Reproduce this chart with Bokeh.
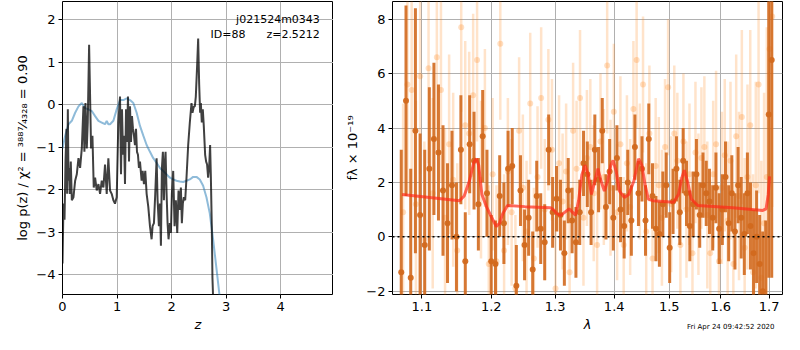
from bokeh.plotting import figure
from bokeh.layouts import row
from bokeh.models import ColumnDataSource, FixedTicker, CustomJSTickFormatter, Span, Label, Title
from bokeh.embed import file_html
from bokeh.resources import INLINE
import numpy as np

FONT = "DejaVu Sans"

# ---------------- left panel: log p(z) ----------------
pz_z = [0.000, 0.018, 0.037, 0.055, 0.073, 0.085, 0.098, 0.110, 0.122, 0.134, 0.152, 0.171,
        0.201, 0.232, 0.262, 0.293, 0.323, 0.354, 0.384, 0.402, 0.421, 0.445, 0.463, 0.488,
        0.506, 0.524, 0.549, 0.573, 0.598, 0.628, 0.659, 0.689, 0.720, 0.750, 0.780, 0.811,
        0.841, 0.872, 0.902, 0.933, 0.963, 0.994, 1.024, 1.055, 1.073, 1.091, 1.110, 1.128,
        1.146, 1.165, 1.183, 1.201, 1.220, 1.238, 1.256, 1.274, 1.293, 1.311, 1.329, 1.348,
        1.366, 1.384, 1.402, 1.421, 1.451, 1.470, 1.494, 1.518, 1.543, 1.573, 1.604, 1.634,
        1.652, 1.677, 1.701, 1.726, 1.744, 1.768, 1.787, 1.805, 1.823, 1.841, 1.860, 1.878,
        1.890, 1.909, 1.927, 1.945, 1.970, 1.988, 2.006, 2.030, 2.055, 2.079, 2.104, 2.128,
        2.152, 2.171, 2.189, 2.207, 2.226, 2.250, 2.274, 2.305, 2.335, 2.366, 2.384, 2.409,
        2.427, 2.445, 2.470, 2.488, 2.506, 2.524, 2.537, 2.555, 2.573, 2.591, 2.616, 2.634,
        2.652, 2.671, 2.689, 2.707, 2.720, 2.738, 2.750, 2.762, 2.780]
pz_logp = [-3.74, -2.33, -2.71, -1.34, -0.57, -2.10, -0.11, -1.79, -1.49, -2.10, -1.34, -2.25,
           -2.18, -1.79, -1.64, -1.26, -1.49, -1.03, -0.04, -1.11, 0.04, -1.03, -0.42, 1.41,
           0.19, -1.03, -0.73, -1.95, -1.72, -2.02, -1.87, -2.10, -1.79, -1.95, -1.41, -2.10,
           -1.26, -2.02, -2.10, -2.25, -2.33, -2.18, -0.42, 0.19, -1.64, -0.11, -1.18, -0.73,
           -1.87, -0.11, -0.88, 0.19, -1.34, -0.04, -0.88, -0.27, -0.57, -0.73, -0.95, -0.57,
           -1.11, -1.18, -1.49, -1.34, -1.79, -1.56, -1.87, -1.56, -2.10, -2.40, -2.86, -3.17,
           -2.86, -2.79, -2.10, -1.26, -2.25, -2.86, -2.33, -3.32, -1.49, -1.11, -2.25, -1.34,
           -1.11, -2.10, -2.79, -3.17, -2.79, -3.02, -2.10, -1.56, -2.86, -2.25, -3.02, -2.02,
           -2.48, -1.95, -2.79, -2.33, -2.18, -2.25, -1.72, -0.95, -0.42, 0.04, -0.19, -0.04,
           -0.04, 0.19, 0.95, 1.56, 0.50, -0.19, 0.04, -0.42, -0.11, -0.50, -1.18, -1.34,
           -1.41, -1.72, -1.49, -0.95, -1.64, -2.86, -4.08, -4.54, -5.00]

prior_z = [0.000, 0.049, 0.110, 0.171, 0.232, 0.293, 0.354, 0.415, 0.476, 0.537, 0.598, 0.659,
           0.720, 0.780, 0.811, 0.841, 0.872, 0.933, 0.994, 1.055, 1.116, 1.177, 1.238, 1.299,
           1.360, 1.421, 1.482, 1.543, 1.604, 1.665, 1.726, 1.787, 1.848, 1.909, 1.970, 2.030,
           2.091, 2.152, 2.213, 2.274, 2.335, 2.396, 2.457, 2.518, 2.579, 2.640, 2.701, 2.762,
           2.823, 2.884]
prior_logp = [-1.03, -0.73, -0.46, -0.38, -0.19, -0.04, 0.04, -0.08, -0.11, -0.15, -0.27, -0.38,
              -0.42, -0.46, -0.38, -0.46, -0.46, -0.38, -0.11, 0.11, 0.11, 0.15, 0.11, 0.04,
              -0.19, -0.50, -0.73, -0.95, -1.11, -1.26, -1.37, -1.49, -1.56, -1.64, -1.72, -1.76,
              -1.79, -1.81, -1.82, -1.79, -1.76, -1.70, -1.70, -1.76, -1.91, -2.18, -2.56, -3.17,
              -3.85, -4.54]

z_ticks = [0, 1, 2, 3, 4]
logp_ticks = [-4, -3, -2, -1, 0, 1, 2]

# ---------------- right panel: spectrum ----------------
g1_wave = [1.0720, 1.0784, 1.0848, 1.0912, 1.0976, 1.1040, 1.1104, 1.1168, 1.1232, 1.1296,
           1.1360, 1.1424, 1.1488, 1.1552, 1.1616, 1.1680, 1.1744, 1.1808, 1.1872, 1.1936,
           1.2000, 1.2064, 1.2128, 1.2192, 1.2256, 1.2320, 1.2384, 1.2448, 1.2512, 1.2576,
           1.2640, 1.2704, 1.2768, 1.2832, 1.2896, 1.2960, 1.3024, 1.3088, 1.3152, 1.3216,
           1.3280, 1.3344, 1.3408, 1.3472, 1.3536, 1.3600, 1.3664, 1.3728, 1.3792, 1.3856,
           1.3920, 1.3984, 1.4048, 1.4112, 1.4176, 1.4240, 1.4304, 1.4368, 1.4432, 1.4496,
           1.4560, 1.4620, 1.4688, 1.4752, 1.4816, 1.4880, 1.4944, 1.5008, 1.5072, 1.5136,
           1.5200, 1.5264, 1.5328, 1.5392, 1.5456, 1.5520, 1.5584, 1.5648, 1.5712, 1.5776,
           1.5840, 1.5904, 1.5968, 1.6032, 1.6096, 1.6160, 1.6224, 1.6288, 1.6352, 1.6416,
           1.6480, 1.6544, 1.6608, 1.6672, 1.6736, 1.6800, 1.6864, 1.6928, 1.6992, 1.7056]
g1_flux = [-1.3, 5.0, -1.5, 3.9, 0.8, -0.3, 2.5, 3.6, 3.1, 1.7,
           0.5, 1.9, 0.0, 3.2, -0.9, 3.4, 2.8, 1.2, 3.7, 1.6,
           -0.9, -1.0, 1.5, 0.5, 2.5, 2.6, -1.8, 1.7, -0.3, 0.7,
           -1.2, 1.5, 0.3, -0.2, 3.2, 0.9, 1.4, 0.8, -0.6, 1.7,
           0.6, -0.2, 0.9, 2.7, 2.3, 0.9, 3.2, 2.1, 3.9, 1.1,
           2.4, 0.7, 2.9, 1.0, 0.4, 2.0, 0.6, 3.3, 1.6, 2.5,
           0.6, 3.6, 1.5, 0.3, 0.1, 1.2, 1.9, -0.4, 1.3, 2.5,
           0.9, 2.8, 1.6, 0.4, 1.2, 2.3, 0.8, 1.9, 1.6, 1.3,
           0.7, 1.8, 0.3, 1.0, 2.2, 0.5, 1.6, 0.2, 1.9, 0.7,
           0.1, 1.6, 0.4, -0.6, 0.0, -1.0, -2.0, -2.4, 4.5, 6.5]
g1_err = [4.5, 3.5, 4.0, 4.5, 3.0, 3.5, 3.0, 2.8, 2.5, 2.4,
          2.2, 2.0, 2.0, 2.0, 1.8, 1.8, 1.8, 1.7, 1.7, 1.6,
          1.7, 1.6, 1.5, 1.5, 1.4, 1.4, 1.5, 1.3, 1.3, 1.4,
          1.4, 1.3, 1.3, 1.4, 1.3, 1.3, 1.2, 1.3, 1.2, 1.2,
          1.2, 1.3, 1.2, 1.2, 1.2, 1.2, 1.3, 1.2, 1.2, 1.2,
          1.2, 1.2, 1.2, 1.2, 1.2, 1.2, 1.3, 1.2, 1.2, 1.2,
          1.3, 1.3, 1.2, 1.2, 1.2, 1.2, 1.2, 1.3, 1.2, 1.2,
          1.2, 1.2, 1.2, 1.3, 1.2, 1.3, 1.2, 1.2, 1.2, 1.2,
          1.2, 1.3, 1.3, 1.3, 1.3, 1.4, 1.4, 1.4, 1.4, 1.5,
          1.5, 1.5, 1.6, 1.6, 1.7, 1.8, 2.2, 3.0, 6.0, 8.0]

g2_wave = [1.0745, 1.0803, 1.0861, 1.0919, 1.0977, 1.1035, 1.1093, 1.1151, 1.1209, 1.1267,
           1.1325, 1.1383, 1.1441, 1.1499, 1.1557, 1.1615, 1.1673, 1.1731, 1.1789, 1.1847,
           1.1905, 1.1963, 1.2021, 1.2079, 1.2137, 1.2195, 1.2253, 1.2311, 1.2369, 1.2427,
           1.2485, 1.2543, 1.2601, 1.2659, 1.2717, 1.2775, 1.2833, 1.2891, 1.2949, 1.3007,
           1.3065, 1.3123, 1.3181, 1.3239, 1.3297, 1.3355, 1.3413, 1.3471, 1.3529, 1.3587,
           1.3645, 1.3703, 1.3761, 1.3819, 1.3877, 1.3935, 1.3993, 1.4051, 1.4109, 1.4167,
           1.4225, 1.4283, 1.4341, 1.4399, 1.4457, 1.4515, 1.4573, 1.4631, 1.4689, 1.4747,
           1.4805, 1.4863, 1.4921, 1.4979, 1.5037, 1.5095, 1.5153, 1.5211, 1.5269, 1.5327,
           1.5385, 1.5443, 1.5501, 1.5559, 1.5617, 1.5675, 1.5733, 1.5791, 1.5849, 1.5907,
           1.5965, 1.6023, 1.6081, 1.6139, 1.6197, 1.6255, 1.6313, 1.6371, 1.6429, 1.6487,
           1.6545, 1.6603, 1.6661, 1.6719, 1.6777, 1.6835, 1.6893, 1.6951, 1.7009, 1.7067]
g2_flux = [0.9, 5.6, 5.4, 1.2, 5.9, -0.1, 6.2, 1.6, 6.6, 5.4,
           0.7, 3.4, 2.1, -0.5, 7.7, 4.1, 3.8, 5.2, 6.5, 2.1,
           4.0, -1.0, 2.3, -0.9, 7.1, -0.5, 2.4, 0.9, -1.9, 3.9,
           1.8, 0.2, 4.9, -0.8, 2.2, 5.1, 1.0, 4.3, 3.2, -1.9,
           2.7, 1.3, 2.4, -1.3, 3.9, 2.5, 5.1, 0.7, 2.9, 3.3,
           1.6, -0.3, 3.5, 2.2, 6.3, 1.8, 4.6, 0.9, 3.4, -0.3,
           2.7, 1.1, 4.7, 6.5, 2.4, 5.6, 0.2, 3.8, -0.8, 2.6,
           1.9, 0.7, 3.3, 5.5, 1.2, 3.8, 2.8, -0.3, 3.5, 1.0,
           2.3, -0.6, 3.1, 1.2, 2.9, 3.3, 0.8, -0.6, 2.3, 3.4,
           -0.9, 1.8, 3.0, 0.6, 2.8, -1.0, 3.7, 1.5, 4.4, -0.4,
           2.2, 4.1, -1.3, 1.9, 5.6, -1.5, 0.5, 2.2, 6.9, 8.1]
g2_err = [4.0, 4.0, 3.8, 3.8, 3.6, 3.6, 3.5, 3.5, 3.4, 3.4,
          3.3, 3.3, 3.2, 3.2, 3.1, 3.1, 3.0, 3.0, 3.0, 2.9,
          2.9, 2.9, 2.8, 2.8, 2.8, 2.8, 2.7, 2.7, 2.7, 2.7,
          2.7, 2.6, 2.6, 2.6, 2.6, 2.6, 2.6, 2.6, 2.6, 2.6,
          2.5, 2.5, 2.5, 2.5, 2.5, 2.5, 2.5, 2.5, 2.5, 2.5,
          2.5, 2.5, 2.5, 2.5, 2.5, 2.5, 2.5, 2.5, 2.5, 2.5,
          2.5, 2.5, 2.5, 2.5, 2.5, 2.5, 2.5, 2.5, 2.5, 2.5,
          2.5, 2.5, 2.5, 2.5, 2.5, 2.5, 2.5, 2.5, 2.5, 2.5,
          2.6, 2.6, 2.6, 2.6, 2.6, 2.6, 2.7, 2.7, 2.7, 2.7,
          2.8, 2.8, 2.8, 2.9, 2.9, 3.0, 3.0, 3.1, 3.2, 3.3,
          3.4, 3.5, 3.6, 3.8, 4.0, 4.3, 4.8, 5.5, 6.0, 7.0]

model_wave = [1.0731, 1.1533, 1.1600, 1.1674, 1.1743, 1.1780, 1.1813, 1.1860, 1.1931, 1.2003,
              1.2077, 1.2125, 1.2174, 1.2247, 1.2516, 1.2926, 1.2978, 1.3030, 1.3092, 1.3162,
              1.3230, 1.3284, 1.3336, 1.3389, 1.3443, 1.3497, 1.3552, 1.3606, 1.3662, 1.3717,
              1.3772, 1.3828, 1.3884, 1.3940, 1.3980, 1.4036, 1.4092, 1.4177, 1.4257, 1.4348,
              1.4434, 1.4494, 1.4552, 1.4610, 1.4697, 1.5083, 1.5176, 1.5237, 1.5286, 1.5347,
              1.5421, 1.5545, 1.6243, 1.6866, 1.6936, 1.6982, 1.7010]
model_flux = [1.56, 1.33, 1.50, 2.04, 2.75, 2.87, 2.63, 1.56, 1.09, 0.73,
              0.38, 0.50, 0.85, 1.15, 1.11, 1.07, 0.99, 0.85, 0.79, 0.91,
              1.03, 0.91, 0.79, 1.33, 2.27, 2.63, 2.27, 1.56, 2.04, 2.51,
              2.04, 1.68, 2.04, 2.63, 2.81, 2.39, 1.68, 1.45, 1.56, 2.04,
              2.87, 2.63, 1.92, 1.39, 1.33, 1.27, 1.56, 2.16, 2.45, 2.04,
              1.39, 1.15, 1.07, 0.97, 1.03, 1.56, 2.22]

wave_ticks = [1.1, 1.2, 1.3, 1.4, 1.5, 1.6, 1.7]
flux_ticks = [-2, 0, 2, 4, 6, 8]

minus_fmt = "return (tick < 0 ? '\\u2212' : '') + Math.abs(tick).toString();"


def style(p):
    p.outline_line_color = "black"
    p.outline_line_alpha = 1.0
    p.outline_line_width = 1
    p.grid.grid_line_color = "#b0b0b0"
    p.grid.grid_line_width = 1
    p.grid.grid_line_alpha = 1.0
    p.background_fill_color = "white"
    p.border_fill_color = "white"
    for ax in p.axis:
        ax.axis_line_color = None
        ax.major_tick_line_color = "black"
        ax.major_tick_out = 4
        ax.major_tick_in = 0
        ax.minor_tick_line_color = None
        ax.major_label_text_font = FONT
        ax.major_label_text_font_size = "13px"
        ax.major_label_text_color = "black"
        ax.axis_label_text_font = FONT
        ax.axis_label_text_font_size = "13px"
        ax.axis_label_text_color = "black"
        ax.major_label_standoff = 3
        ax.axis_label_standoff = 3


NB = "\u00a0"

# ---- left figure
p1 = figure(width=333, height=334, x_range=(0, 4.97), y_range=(-4.47, 2.43),
            output_backend="svg", toolbar_location=None,
            min_border_left=62, min_border_right=0, min_border_top=1, min_border_bottom=38)
p1.line(prior_z, prior_logp, line_color="#1f77b4", line_alpha=0.5, line_width=2)
p1.line(pz_z, pz_logp, line_color="black", line_alpha=0.75, line_width=2)
style(p1)
p1.xaxis.ticker = FixedTicker(ticks=z_ticks)
p1.yaxis.ticker = FixedTicker(ticks=logp_ticks)
p1.xaxis.formatter = CustomJSTickFormatter(code=minus_fmt)
p1.yaxis.formatter = CustomJSTickFormatter(code=minus_fmt)
p1.xaxis.axis_label = "z"
p1.xaxis.axis_label_text_font_style = "italic"
p1.yaxis.axis_label = "log p(z) / \u03c7\u00b2 = \u00b3\u2078\u2078\u2077\u2044\u2084\u2083\u2082\u2088 = 0.90"
p1.yaxis.axis_label_text_font_style = "normal"
p1.add_layout(Label(x=4.72, y=2.16, text="j021524m0343", text_align="right",
                    text_baseline="top", text_font=FONT, text_font_size="11px",
                    text_color="black"))
p1.add_layout(Label(x=4.72, y=1.81, text="ID=88" + NB * 6 + "z=2.5212", text_align="right",
                    text_baseline="top", text_font=FONT, text_font_size="11px",
                    text_color="black"))

# ---- right figure
g1 = np.array(g1_flux)
e1 = np.array(g1_err)
g2 = np.array(g2_flux)
e2 = np.array(g2_err)
src1 = ColumnDataSource(dict(x=g1_wave, y=g1_flux, lo=g1 - e1, hi=g1 + e1))
src2 = ColumnDataSource(dict(x=g2_wave, y=g2_flux, lo=g2 - e2, hi=g2 + e2))

p2 = figure(width=451, height=334, x_axis_type="log", x_range=(1.0603, 1.7288),
            y_range=(-2.12, 8.65), output_backend="svg", toolbar_location=None,
            min_border_left=59, min_border_right=2, min_border_top=1, min_border_bottom=38)
p2.segment(x0="x", y0="lo", x1="x", y1="hi", source=src2, line_color="#ff7f0e",
           line_alpha=0.22, line_width=2.5)
p2.scatter("x", "y", source=src2, size=6, fill_color="#ff7f0e", line_color=None,
           fill_alpha=0.25)
p2.segment(x0="x", y0="lo", x1="x", y1="hi", source=src1, line_color="#d2691e",
           line_alpha=0.9, line_width=3)
p2.scatter("x", "y", source=src1, size=6, fill_color="#d2691e", line_color=None,
           fill_alpha=0.95)
p2.line(model_wave, model_flux, line_color="#ff2a1a", line_alpha=0.7, line_width=3)
p2.add_layout(Span(location=0, dimension="width", line_color="black", line_width=1.5,
                   line_dash="2 3"))
style(p2)
p2.xaxis.ticker = FixedTicker(ticks=wave_ticks, minor_ticks=[])
p2.xaxis.formatter = CustomJSTickFormatter(code="return tick.toFixed(1);")
p2.yaxis.ticker = FixedTicker(ticks=flux_ticks)
p2.yaxis.formatter = CustomJSTickFormatter(code=minus_fmt)
p2.xaxis.axis_label = "\u03bb"
p2.xaxis.axis_label_text_font_style = "italic"
p2.yaxis.axis_label = "f\u03bb \u00d7 10\u207b\u00b9\u2079"
p2.yaxis.axis_label_text_font_style = "normal"
p2.add_layout(Title(text="Fri Apr 24 09:42:52 2020", align="right", vertical_align="top",
                    standoff=-24, offset=8, text_font=FONT, text_font_size="7px",
                    text_font_style="normal", text_color="black"), "below")

layout = row(p1, p2)
open("out.html", "w").write(file_html(layout, INLINE))
